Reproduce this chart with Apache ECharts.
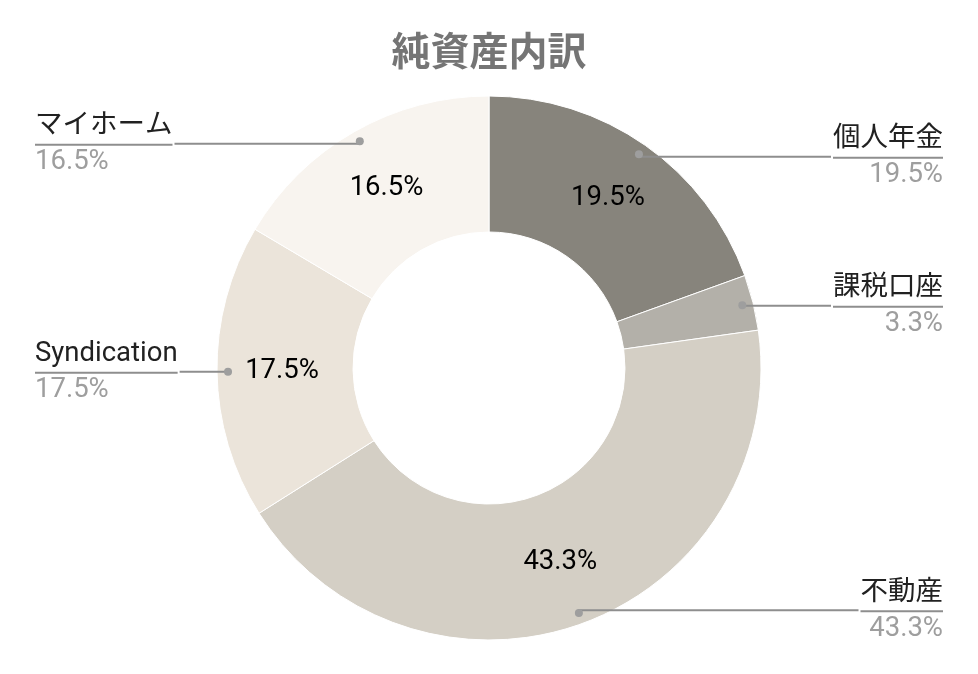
<!DOCTYPE html>
<html>
<head>
<meta charset="utf-8">
<script src="https://cdn.jsdelivr.net/npm/echarts@6/dist/echarts.min.js"></script>
<style>
  html, body { margin: 0; padding: 0; background: #fff; }
  #chart { width: 978px; height: 674px; }
</style>
</head>
<body>
<div id="chart"></div>
<script>
// 純資産の内訳 (%)
const names = ['個人年金', '課税口座', '不動産', 'Syndication', 'マイホーム'];
const values = [19.5, 3.3, 43.3, 17.5, 16.5];
const colors = ['#87847c', '#b3b0a9', '#d4cfc5', '#ebe4da', '#f8f4ef'];

const FONT = 'Roboto, "Noto Sans CJK JP", sans-serif';
const center = [489, 368];

const pieData = names.map((n, i) => ({ name: n, value: values[i] }));
const fmt = v => v.toFixed(1) + '%';

const chart = echarts.init(document.getElementById('chart'));
chart.setOption({
  animation: false,
  title: {
    text: '純資産内訳',
    left: 'center',
    top: 26,
    textStyle: { fontFamily: '"Noto Sans CJK JP"', fontSize: 39, fontWeight: 'bold', color: '#757575' }
  },
  series: [
    {
      // 本体のドーナツ + 内側のラベル
      type: 'pie',
      center: center,
      radius: [136, 272],
      startAngle: 90,
      silent: true,
      z: 1,
      data: pieData.map((d, i) => ({
        ...d,
        itemStyle: { color: colors[i] },
        label: { show: d.value > 5 }
      })),
      itemStyle: { borderColor: '#fff', borderWidth: 1 },
      label: {
        position: 'inside',
        formatter: p => fmt(p.value),
        color: '#000',
        fontFamily: FONT,
        fontSize: 27.5
      },
      labelLine: { show: false }
    },
    {
      // 外側のラベル(線は点の位置から)
      type: 'pie',
      center: center,
      radius: [0, 258],
      startAngle: 90,
      silent: true,
      z: 5,
      data: pieData,
      itemStyle: { color: 'transparent' },
      label: {
        position: 'outside',
        alignTo: 'edge',
        edgeDistance: 35,
        distanceToLabelLine: 0,
        formatter: p => '{name|' + p.name + '}\n{hr|}\n{per|' + fmt(p.value) + '}',
        rich: {
          name: { fontFamily: FONT, fontSize: 27.5, color: '#212121', lineHeight: 37 },
          hr: { borderColor: '#8e8e8e', width: '100%', borderWidth: 2, height: 0 },
          per: { fontFamily: FONT, fontSize: 27.5, color: '#9e9e9e', lineHeight: 35 }
        }
      },
      labelLine: {
        show: true,
        length: 0,
        length2: 0,
        maxSurfaceAngle: 180,
        lineStyle: { color: '#8e8e8e', width: 2 }
      }
    },
    {
      // 引き出し線の点
      type: 'pie',
      center: center,
      radius: [250, 266],
      startAngle: 90,
      silent: true,
      z: 6,
      data: pieData,
      itemStyle: { color: 'transparent' },
      label: {
        position: 'inside',
        formatter: '{a|}',
        rich: { a: { width: 8, height: 8, borderRadius: 4, backgroundColor: '#9e9e9e' } }
      },
      labelLine: { show: false }
    }
  ]
});
</script>
</body>
</html>
